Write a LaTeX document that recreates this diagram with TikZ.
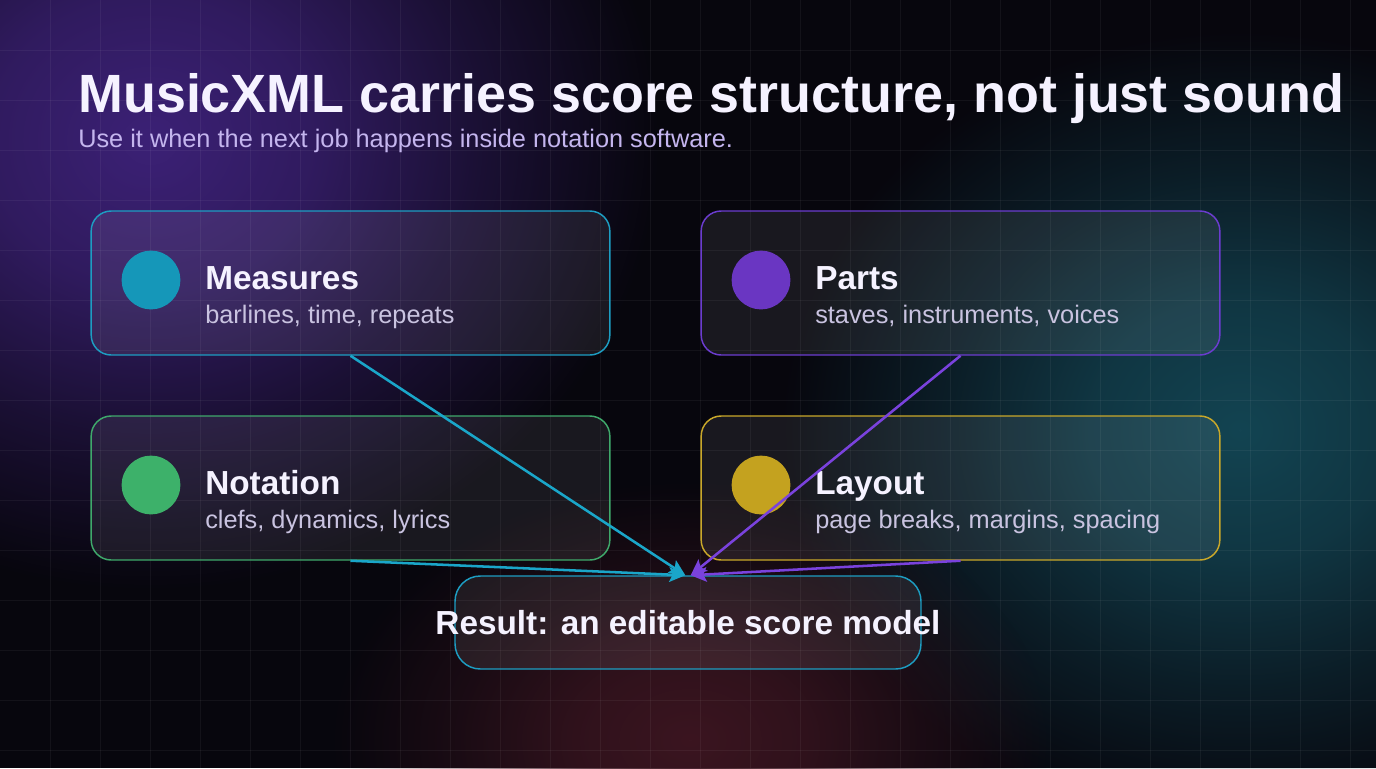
\documentclass[tikz,border=0pt]{standalone}
\usepackage{fontspec}
\setmainfont{Liberation Sans}
\usetikzlibrary{arrows.meta,fadings}
\definecolor{pagebg}{HTML}{07060D}
\definecolor{glowpurple}{HTML}{3C2176}
\definecolor{glowteal}{HTML}{134452}
\definecolor{glowred}{HTML}{3B1520}
\definecolor{titlecol}{HTML}{F5F2FF}
\definecolor{leadcol}{HTML}{C4B5EE}
\definecolor{notecol}{HTML}{C9C3E0}
\definecolor{measurescol}{HTML}{1D9DC2}
\definecolor{measuresdot}{HTML}{1597B9}
\definecolor{partscol}{HTML}{6B3CCF}
\definecolor{partsdot}{HTML}{6A36C2}
\definecolor{notationcol}{HTML}{3FA96B}
\definecolor{notationdot}{HTML}{3DB16A}
\definecolor{layoutcol}{HTML}{C9A82A}
\definecolor{layoutdot}{HTML}{C4A21F}
\definecolor{arrowcyan}{HTML}{1AA6C9}
\definecolor{arrowpurple}{HTML}{7A42DD}
\pgfdeclareradialshading{glowshade}{\pgfpointorigin}{color(0bp)=(white); color(8bp)=(white!78!black); color(16bp)=(white!38!black); color(25bp)=(black); color(50bp)=(black)}
\pgfdeclarefading{glowfade}{\pgfuseshading{glowshade}}

\begin{document}
\begin{tikzpicture}[
    x=0.75pt, y=-0.75pt,
    >={Stealth[length=12pt, width=11pt, inset=2.5pt]},
    gridline/.style={draw=white, draw opacity=0.05, line width=0.6pt},
    card/.style={draw=#1, line width=1.1pt, rounded corners=15pt, fill=white, fill opacity=0.075,
        minimum width=389pt, minimum height=108pt, inner sep=0pt},
    badge/.style={circle, fill=#1, minimum size=44pt, inner sep=0pt},
    cardtitle/.style={anchor=base west, inner sep=0pt, text=titlecol, font=\fontsize{25}{30}\selectfont\bfseries},
    cardnote/.style={anchor=base west, inner sep=0pt, text=notecol, font=\fontsize{19}{23}\selectfont},
    feed/.style={->, line width=1.9pt, draw=#1}
]
\useasboundingbox (0,0) rectangle (1376,768);
\fill[pagebg] (0,0) rectangle (1376,768);

% glows
\fill[glowpurple, path fading=glowfade] (150,140) ellipse [x radius=510, y radius=450];
\fill[glowteal, path fading=glowfade] (1240,430) ellipse [x radius=460, y radius=400];
\fill[glowred, path fading=glowfade] (690,740) ellipse [x radius=360, y radius=260];

% grid
\foreach \gx in {50,100,...,1350}
  \draw[gridline] (\gx,0) -- (\gx,768);
\foreach \gy in {50,100,...,750}
  \draw[gridline] (0,\gy) -- (1376,\gy);

\node[anchor=base west, inner sep=0pt, text=titlecol, font=\fontsize{40.4}{48}\selectfont\bfseries] (headline)
    at (78,112) {MusicXML carries score structure, not just sound};
\node[anchor=base west, inner sep=0pt, text=leadcol, font=\fontsize{19}{23}\selectfont] (lead)
    at (78,147) {Use it when the next job happens inside notation software.};

\node[card=measurescol] (measures) at (350.5,283) {};
\node[card=partscol] (parts) at (960.5,283) {};
\node[card=notationcol] (notation) at (350.5,488) {};
\node[card=layoutcol] (layout) at (960.5,488) {};

\node[badge=measuresdot] (measuresbadge) at (151,280) {};
\node[cardtitle] (measurestitle) at (205,289) {Measures};
\node[cardnote] (measuresnote) at (205,323) {barlines, time, repeats};

\node[badge=partsdot] (partsbadge) at (761,280) {};
\node[cardtitle] (partstitle) at (815,289) {Parts};
\node[cardnote] (partsnote) at (815,323) {staves, instruments, voices};

\node[badge=notationdot] (notationbadge) at (151,485) {};
\node[cardtitle] (notationtitle) at (205,494) {Notation};
\node[cardnote] (notationnote) at (205,528) {clefs, dynamics, lyrics};

\node[badge=layoutdot] (layoutbadge) at (761,485) {};
\node[cardtitle] (layouttitle) at (815,494) {Layout};
\node[cardnote] (layoutnote) at (815,528) {page breaks, margins, spacing};

\node[card=measurescol, minimum width=349.5pt, minimum height=69.75pt, rounded corners=19pt] (result) at (688,622.5) {};

\draw[feed=arrowcyan] (notation.south) -- ([xshift=-2pt]result.north);
\draw[feed=arrowpurple] (layout.south) -- ([xshift=2pt]result.north);
\draw[feed=arrowcyan] (measures.south) -- ([xshift=-2pt]result.north);
\draw[feed=arrowpurple] (parts.south) -- ([xshift=2pt]result.north);

\node[anchor=base, inner sep=0pt, text=titlecol, font=\fontsize{25}{30}\selectfont\bfseries] (resulttext)
    at (688,634) {Result: an editable score model};
\end{tikzpicture}
\end{document}
